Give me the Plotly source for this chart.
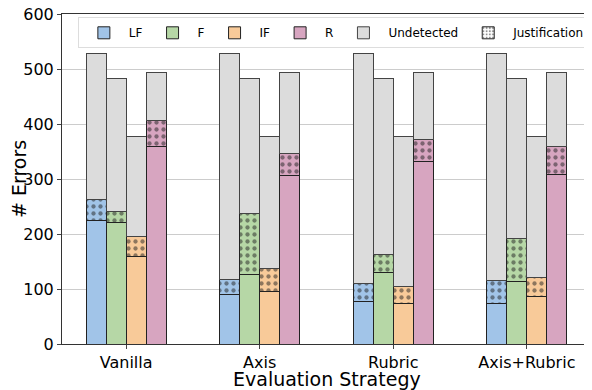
import plotly.graph_objects as go

groups = ["Vanilla", "Axis", "Rubric", "Axis+Rubric"]
categories = ["LF", "F", "IF", "R"]
totals = [528, 483, 378, 493]
detected = {
    "LF": [224, 90, 78, 73],
    "F": [221, 126, 130, 113],
    "IF": [160, 95, 73, 86],
    "R": [359, 307, 331, 309],
}
justification = {
    "LF": [38, 28, 32, 43],
    "F": [20, 112, 32, 79],
    "IF": [36, 42, 31, 35],
    "R": [48, 39, 40, 50],
}

COLORS = {"LF": "#a1c4e8", "F": "#b6d7a6", "IF": "#f8ca99", "R": "#d7a5c0"}
GRAY = "#dcdcdc"
FONT = "DejaVu Sans"
BAR_W = 0.15
offsets = [-0.225, -0.075, 0.075, 0.225]
STAR = dict(shape=".", fgcolor="#222222", size=7, solidity=0.3)

fig = go.Figure()
for i, cat in enumerate(categories):
    xs = [g + offsets[i] for g in range(len(groups))]
    base = detected[cat]
    just = justification[cat]
    undet = [totals[i] - b - j for b, j in zip(base, just)]
    fig.add_trace(go.Bar(
        x=xs, y=base, width=BAR_W, name=cat, legendgroup=cat, legendrank=i + 1,
        marker=dict(color=COLORS[cat], line=dict(color="#222222", width=1)),
    ))
    fig.add_trace(go.Bar(
        x=xs, y=just, width=BAR_W, showlegend=False, legendgroup=cat,
        marker=dict(color=COLORS[cat], line=dict(color="#222222", width=1),
                    pattern=dict(STAR, bgcolor=COLORS[cat])),
    ))
    fig.add_trace(go.Bar(
        x=xs, y=undet, width=BAR_W, name="Undetected", legendgroup="und",
        showlegend=(i == 0), legendrank=5,
        marker=dict(color=GRAY, line=dict(color="#444444", width=1)),
    ))

# legend-only entry for the hatched justification part
fig.add_trace(go.Bar(
    x=[None], y=[None], name="Justification", legendrank=6,
    marker=dict(color="white", line=dict(color="#222222", width=1),
                pattern=dict(STAR, bgcolor="white", size=4)),
))

# the page body adds 8px, so the figure is 8px smaller than the window
fig.update_layout(
    barmode="stack",
    width=584, height=382,
    paper_bgcolor="white", plot_bgcolor="white",
    font=dict(family=FONT, color="black", size=16),
    margin=dict(l=54, r=1, t=6, b=46, autoexpand=False),
    showlegend=True,
    legend=dict(
        orientation="h", x=0.03, xanchor="left", y=0.99, yanchor="top",
        bgcolor="rgba(255,255,255,0.9)", bordercolor="#dddddd", borderwidth=1,
        font=dict(size=12), itemwidth=40, traceorder="normal",
    ),
    annotations=[
        dict(text="Evaluation Strategy", x=0.5, y=0, xref="paper", yref="paper",
             xanchor="center", yanchor="middle", yshift=-35, showarrow=False,
             font=dict(size=19)),
        dict(text="# Errors", x=0, y=0.5, xref="paper", yref="paper",
             xanchor="center", yanchor="middle", xshift=-43, textangle=-90,
             showarrow=False, font=dict(size=19)),
    ],
)
fig.update_xaxes(
    tickmode="array", tickvals=list(range(len(groups))), ticktext=groups,
    range=[-0.48, 3.48], showgrid=False, showline=True, linecolor="#333333",
    mirror=True, ticks="outside", ticklen=4, tickfont=dict(size=16), automargin=False,
)
fig.update_yaxes(
    range=[0, 600], dtick=100, showgrid=True, gridcolor="#cccccc",
    showline=True, linecolor="#333333", mirror=True, ticks="outside", ticklen=4,
    tickfont=dict(size=16), zeroline=False, automargin=False,
    ticklabeloverflow="allow",
)

fig.write_html("out.html")
